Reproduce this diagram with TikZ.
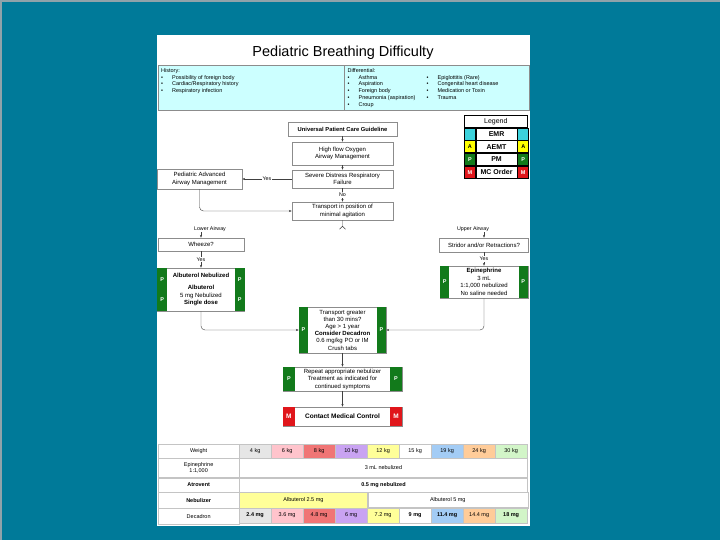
\documentclass[tikz,border=0pt]{standalone}
\usepackage{fontspec}
\setmainfont{Liberation Sans}
\usetikzlibrary{
  arrows.meta,
  positioning,
  calc
}
\definecolor{pbTeal}{HTML}{007A99}
\definecolor{pbFrame}{HTML}{8FA3AA}
\definecolor{pbInfo}{HTML}{CCFFFF}
\definecolor{pbBorder}{HTML}{8C8C8C}
\definecolor{pbGrid}{HTML}{C4C4C4}
\definecolor{pbEMR}{HTML}{3CD2DC}
\definecolor{pbAEMT}{HTML}{FFFF00}
\definecolor{pbPM}{HTML}{127A1B}
\definecolor{pbMC}{HTML}{E0161B}
\definecolor{kgFour}{HTML}{E6E6E6}
\definecolor{kgSix}{HTML}{FFC4CC}
\definecolor{kgEight}{HTML}{F07575}
\definecolor{kgTen}{HTML}{C9A3F2}
\definecolor{kgTwelve}{HTML}{FFFF99}
\definecolor{kgFifteen}{HTML}{FFFFFF}
\definecolor{kgNineteen}{HTML}{A3CCF5}
\definecolor{kgTwentyfour}{HTML}{FFCC99}
\definecolor{kgThirty}{HTML}{D2F5C8}

\newcommand{\bul}{\makebox[11pt][l]{\textbullet}}

\tikzset{
  flowbox/.style={draw=pbBorder, fill=white, line width=0.5pt, align=center, inner sep=1pt,
    font=\fontsize{6}{7.5}\selectfont},
  pmbar/.style={fill=pbPM, text=white, inner sep=0pt, align=center,
    font=\fontsize{5.5}{6.5}\selectfont\bfseries},
  mcbar/.style={fill=pbMC, text=white, inner sep=0pt,
    font=\fontsize{6.5}{7.5}\selectfont\bfseries},
  flowarrow/.style={draw=black!75, line width=0.4pt, -{Stealth[length=2.8pt,width=2.2pt]}},
  flowlbl/.style={fill=white, inner sep=0.8pt, font=\fontsize{5.3}{6}\selectfont},
  infotext/.style={align=left, inner sep=0pt, font=\fontsize{5.5}{6.9}\selectfont},
  legcell/.style={draw=black, line width=0.7pt, inner sep=0pt, minimum height=12pt,
    font=\fontsize{7}{8}\selectfont},
  legside/.style={legcell, minimum width=11pt, font=\fontsize{5.5}{6}\selectfont\bfseries},
  tcell/.style={draw=pbGrid, line width=0.3pt, inner sep=0pt, align=center,
    font=\fontsize{5.5}{6.3}\selectfont},
}

\begin{document}
\begin{tikzpicture}[x=1pt, y=-1pt]
  \useasboundingbox (0,0) rectangle (720,540);
  \fill[pbTeal] (0,0) rectangle (720,540);
  \draw[pbFrame, line width=2pt] (1,540) -- (1,1) -- (720,1);
  \fill[white] (157,35) rectangle (530,526);

  % title and history / differential strip
  \node[font=\fontsize{14.5}{16}\selectfont] (title) at (343,53) {Pediatric Breathing Difficulty};
  \node[draw=pbBorder, fill=pbInfo, line width=0.4pt, inner sep=0pt, minimum width=186pt, minimum height=45pt, anchor=north west] (hist) at (158,65) {};
  \node[draw=pbBorder, fill=pbInfo, line width=0.4pt, inner sep=0pt, minimum width=185pt, minimum height=45pt, anchor=north west] (diff) at (hist.north east) {};
  \node[infotext, anchor=north west] (histtxt) at ($(hist.north west)+(3,3)$) {History:\\
    \bul Possibility of foreign body\\
    \bul Cardiac/Respiratory history\\
    \bul Respiratory infection};
  \node[infotext, anchor=north west] (diffA) at ($(diff.north west)+(3,3)$) {Differential:\\
    \bul Asthma\\
    \bul Aspiration\\
    \bul Foreign body\\
    \bul Pneumonia (aspiration)\\
    \bul Croup};
  \node[infotext, anchor=north west] (diffB) at ($(diffA.north west)+(79,0)$) {\vphantom{Differential:}\\
    \bul Epiglottitis (Rare)\\
    \bul Congenital heart disease\\
    \bul Medication or Toxin\\
    \bul Trauma};

  % legend
  \node[legcell, minimum width=63pt, anchor=north west] (legtitle) at (464,115) {Legend};
  \node[legside, fill=pbEMR, anchor=north west] (emrL) at (legtitle.south west) {};
  \node[legcell, minimum width=41pt, right=0pt of emrL] (emr) {\textbf{EMR}};
  \node[legside, fill=pbEMR, right=0pt of emr] (emrR) {};
  \node[legside, fill=pbAEMT, below=0pt of emrL] (aemtL) {A};
  \node[legcell, minimum width=41pt, right=0pt of aemtL] (aemt) {\textbf{AEMT}};
  \node[legside, fill=pbAEMT, right=0pt of aemt] (aemtR) {A};
  \node[legside, fill=pbPM, text=white, below=0pt of aemtL] (pmL) {P};
  \node[legcell, minimum width=41pt, right=0pt of pmL] (pm) {\textbf{PM}};
  \node[legside, fill=pbPM, text=white, right=0pt of pm] (pmR) {P};
  \node[legside, fill=pbMC, text=white, below=0pt of pmL] (mcL) {M};
  \node[legcell, minimum width=41pt, right=0pt of mcL] (mc) {\textbf{MC Order}};
  \node[legside, fill=pbMC, text=white, right=0pt of mc] (mcR) {M};

  % main flow
  \node[flowbox, font=\fontsize{5.8}{7}\selectfont\bfseries, minimum width=109pt, minimum height=14pt] (ucg) at (342.5,129) {Universal Patient Care Guideline};
  \node[flowbox, minimum width=101pt, minimum height=23pt] (oxy) at (342.5,153.5) {High flow Oxygen\\Airway Management};
  \node[flowbox, minimum width=101pt, minimum height=18pt] (distress) at (342.5,179) {Severe Distress Respiratory\\Failure};
  \node[flowbox, minimum width=85pt, minimum height=20pt] (advair) at (199.5,179) {Pediatric Advanced\\Airway Management};
  \node[flowbox, minimum width=101pt, minimum height=18pt] (transp) at (342.5,211) {Transport in position of\\minimal agitation};

  % lower airway
  \node[flowlbl] (lowlbl) at (210,229) {Lower Airway};
  \node[flowbox, minimum width=86pt, minimum height=13pt] (wheeze) at (201,244.5) {Wheeze?};
  \node[flowbox, minimum width=87pt, minimum height=43pt] (albut) at (201,289.5) {\textbf{Albuterol Nebulized}\\[4.5pt]\textbf{Albuterol}\\5 mg Nebulized\\\textbf{Single dose}};
  \node[pmbar, minimum width=9.5pt, minimum height=43pt, anchor=north west] (albutL) at (albut.north west) {P\\[13pt]P};
  \node[pmbar, minimum width=9.5pt, minimum height=43pt, anchor=north east] (albutR) at (albut.north east) {P\\[13pt]P};

  % upper airway
  \node[flowlbl] (uplbl) at (473,229) {Upper Airway};
  \node[flowbox, minimum width=89pt, minimum height=14pt] (stridor) at (484,245) {Stridor and/or Retractions?};
  \node[flowbox, minimum width=88pt, minimum height=32pt] (epi) at (484,282) {\textbf{Epinephrine}\\3 mL\\1:1,000 nebulized\\No saline needed};
  \node[pmbar, minimum width=9.5pt, minimum height=32pt, anchor=north west] (epiL) at (epi.north west) {P};
  \node[pmbar, minimum width=9.5pt, minimum height=32pt, anchor=north east] (epiR) at (epi.north east) {P};

  % joined treatment
  \node[flowbox, font=\fontsize{6}{7.2}\selectfont, minimum width=87pt, minimum height=46pt] (decad) at (342.5,330) {Transport greater\\than 30 mins?\\Age > 1 year\\\textbf{Consider Decadron}\\0.6 mg/kg PO or IM\\Crush tabs};
  \node[pmbar, minimum width=9pt, minimum height=46pt, anchor=north west] (decadL) at (decad.north west) {P};
  \node[pmbar, minimum width=9pt, minimum height=46pt, anchor=north east] (decadR) at (decad.north east) {P};
  \node[flowbox, minimum width=119pt, minimum height=24pt] (repeat) at (342.5,379) {Repeat appropriate nebulizer\\Treatment as indicated for\\continued symptoms};
  \node[pmbar, minimum width=12pt, minimum height=24pt, anchor=north west] (repeatL) at (repeat.north west) {P};
  \node[pmbar, minimum width=12pt, minimum height=24pt, anchor=north east] (repeatR) at (repeat.north east) {P};
  \node[flowbox, font=\fontsize{6.5}{7.5}\selectfont\bfseries, minimum width=119pt, minimum height=19pt] (mcc) at (342.5,416.5) {Contact Medical Control};
  \node[mcbar, minimum width=12pt, minimum height=19pt, anchor=north west] (mccL) at (mcc.north west) {M};
  \node[mcbar, minimum width=12pt, minimum height=19pt, anchor=north east] (mccR) at (mcc.north east) {M};

  % connectors
  \draw[flowarrow] (ucg) -- (oxy);
  \draw[flowarrow] (oxy) -- (distress);
  \draw[flowarrow] (distress) -- node[flowlbl] {Yes} (advair);
  \draw[flowarrow] (distress) -- node[flowlbl] {No} (transp);
  \draw[flowarrow, rounded corners=4pt] (advair.south) |- (transp.west);
  \coordinate (fork) at ($(transp.south)+(0,6)$);
  \draw[draw=black!75, line width=0.4pt] (transp.south) -- (fork) -- ++(-3,3) (fork) -- ++(3,3);
  \draw[flowarrow] (lowlbl.south -| wheeze.north) -- (wheeze.north);
  \draw[flowarrow] (wheeze) -- node[flowlbl] {Yes} (albut);
  \draw[flowarrow] (uplbl.south -| stridor.north) -- (stridor.north);
  \draw[flowarrow] (stridor) -- node[flowlbl] {Yes} (epi);
  \draw[flowarrow, rounded corners=4pt] (albut.south) |- (decad.west);
  \draw[flowarrow, rounded corners=4pt] (epi.south) |- (decad.east);
  \draw[flowarrow] (decad) -- (repeat);
  \draw[flowarrow] (repeat) -- (mcc);

  % dosing table
  \node[tcell, minimum width=81pt, minimum height=14pt, anchor=north west] (twt) at (158,444) {Weight};
  \node[tcell, minimum width=81pt, minimum height=19pt, below=0pt of twt] (tepi) {Epinephrine\\1:1,000};
  \node[tcell, minimum width=81pt, minimum height=14pt, below=0pt of tepi] (tatr) {\textbf{Atrovent}};
  \node[tcell, minimum width=81pt, minimum height=16pt, below=0pt of tatr] (tneb) {\textbf{Nebulizer}};
  \node[tcell, minimum width=81pt, minimum height=16pt, below=0pt of tneb] (tdec) {Decadron};
  \foreach \i/\wt/\dose/\kgcol in {1/4 kg/\textbf{2.4 mg}/kgFour, 2/6 kg/3.6 mg/kgSix,
      3/8 kg/4.8 mg/kgEight, 4/10 kg/6 mg/kgTen, 5/12 kg/7.2 mg/kgTwelve,
      6/15 kg/\textbf{9 mg}/kgFifteen, 7/19 kg/\textbf{11.4 mg}/kgNineteen,
      8/24 kg/14.4 mg/kgTwentyfour, 9/30 kg/\textbf{18 mg}/kgThirty} {
    \node[tcell, fill=\kgcol, minimum width=32pt, minimum height=14pt, anchor=north west] (wt\i) at ({207+32*\i},444) {\wt};
    \node[tcell, fill=\kgcol, minimum width=32pt, minimum height=16pt, anchor=north west] (dec\i) at ({207+32*\i},507) {\dose};
  }
  \node[tcell, minimum width=288pt, minimum height=19pt, right=0pt of tepi] (epirow) {3 mL nebulized};
  \node[tcell, minimum width=288pt, minimum height=14pt, right=0pt of tatr] (atrrow) {\textbf{0.5 mg nebulized}};
  \node[tcell, fill=kgTwelve, minimum width=128pt, minimum height=16pt, right=0pt of tneb] (nebsmall) {Albuterol 2.5 mg};
  \node[tcell, minimum width=160pt, minimum height=16pt, right=0pt of nebsmall] (nebbig) {Albuterol 5 mg};
\end{tikzpicture}
\end{document}
